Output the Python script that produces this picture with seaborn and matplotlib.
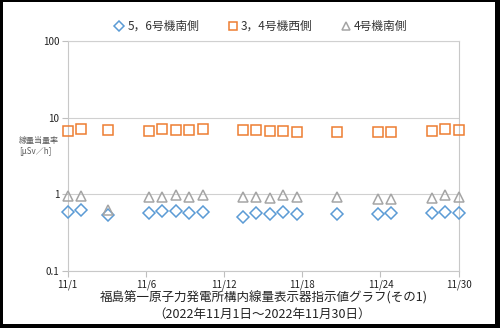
import numpy as np
import pandas as pd
import matplotlib
matplotlib.use("Agg")
import matplotlib.pyplot as plt
from matplotlib.lines import Line2D
from matplotlib.patches import Rectangle
import seaborn as sns

# ---- data ----
days = [1, 2, 4, 7, 8, 9, 10, 11, 14, 15, 16, 17, 18, 21, 24, 25, 28, 29, 30]
unit56_south = [0.58, 0.62, 0.54, 0.575, 0.60, 0.60, 0.565, 0.59, 0.51, 0.575,
                0.55, 0.59, 0.55, 0.55, 0.55, 0.575, 0.565, 0.59, 0.575]
unit34_west = [6.7, 7.0, 6.8, 6.7, 7.0, 6.9, 6.9, 7.0, 6.9, 6.8,
               6.6, 6.6, 6.5, 6.5, 6.4, 6.5, 6.6, 7.0, 6.8]
unit4_south = [0.95, 0.95, 0.62, 0.93, 0.93, 0.98, 0.93, 0.98, 0.93, 0.91,
               0.89, 0.98, 0.91, 0.93, 0.86, 0.86, 0.90, 0.96, 0.91]
series_names = ["5，6号機南側", "3，4号機西側", "4号機南側"]
tick_labels = ["11/1", "11/6", "11/12", "11/18", "11/24", "11/30"]
y_ticks = [0.1, 1, 10, 100]
y_tick_labels = ["0.1", "1", "10", "100"]

colors = ["#5B9BD5", "#ED7D31", "#A5A5A5"]
markers = ["D", "s", "^"]
sizes = [6.0, 7.2, 7.2]

sns.set_theme(style="white")
plt.rcParams["font.family"] = ["Noto Sans CJK JP", "DejaVu Sans"]

fig = plt.figure(figsize=(5.0, 3.28), dpi=100)
ax = fig.add_axes([0.1354, 0.1747, 0.9174 - 0.1354, 0.875 - 0.1747])

x = [d - 1 for d in days]
for name, vals, c, m, s in zip(series_names, [unit56_south, unit34_west, unit4_south],
                               colors, markers, sizes):
    df = pd.DataFrame({"x": x, "y": vals})
    sns.lineplot(data=df, x="x", y="y", ax=ax, linestyle="", marker=m,
                 markersize=s, markerfacecolor="none", markeredgecolor=c,
                 markeredgewidth=1.1, color=c, legend=False, clip_on=False, zorder=5)

ax.set_yscale("log")
ax.set_ylim(0.1, 100)
ax.set_xlim(0, 29)
ax.set_yticks(y_ticks)
ax.set_yticklabels(y_tick_labels, fontsize=7, color="#222222")
ax.minorticks_off()
ax.set_xticks(np.linspace(0, 29, 6))
ax.set_xticklabels(tick_labels, fontsize=7, color="#222222")
ax.tick_params(axis="both", which="major", length=4, width=0.8, color="#BFBFBF",
               pad=2, bottom=True, left=True)
ax.tick_params(axis="x", pad=2)
ax.grid(axis="y", color="#D0D0D0", linewidth=0.8)
ax.grid(axis="x", visible=False)
for side in ["left", "bottom", "right"]:
    ax.spines[side].set_visible(True)
    ax.spines[side].set_color("#C8C8C8")
    ax.spines[side].set_linewidth(0.8)
ax.spines["top"].set_color("#D0D0D0")
ax.spines["top"].set_linewidth(0.8)
ax.set_xlabel("")
ax.set_ylabel("")

fig.text(0.038, 0.555, "線量当量率\n[μSv／h]", fontsize=5.8, color="#595959",
         ha="left", va="center", linespacing=1.4)

handles = [Line2D([], [], linestyle="", marker=m, markersize=s * 0.8,
                  markerfacecolor="none", markeredgecolor=c, markeredgewidth=1.1)
           for m, s, c in zip(markers, sizes, colors)]
fig.legend(handles, series_names, loc="center", bbox_to_anchor=(0.522, 0.92),
           ncol=3, frameon=False, fontsize=8.5, handlelength=0.8, handletextpad=0.3,
           columnspacing=2.4, labelcolor="#333333")

fig.text(0.527, 0.093, "福島第一原子力発電所構内線量表示器指示値グラフ(その1)",
         fontsize=9, ha="center", va="center", color="#222222")
fig.text(0.525, 0.042, "（2022年11月1日～2022年11月30日）",
         fontsize=9, ha="center", va="center", color="#222222")

# black frame around the figure
W, H = 500.0, 328.0
for (x0, y0, w, h) in [(0, 0, 3, H), (0, H - 2, W, 2), (W - 5, 0, 5, H), (0, 0, W, 4)]:
    fig.patches.append(Rectangle((x0 / W, y0 / H), w / W, h / H, transform=fig.transFigure,
                                 facecolor="black", edgecolor="none", zorder=10))

fig.savefig("out.png", dpi=100)
